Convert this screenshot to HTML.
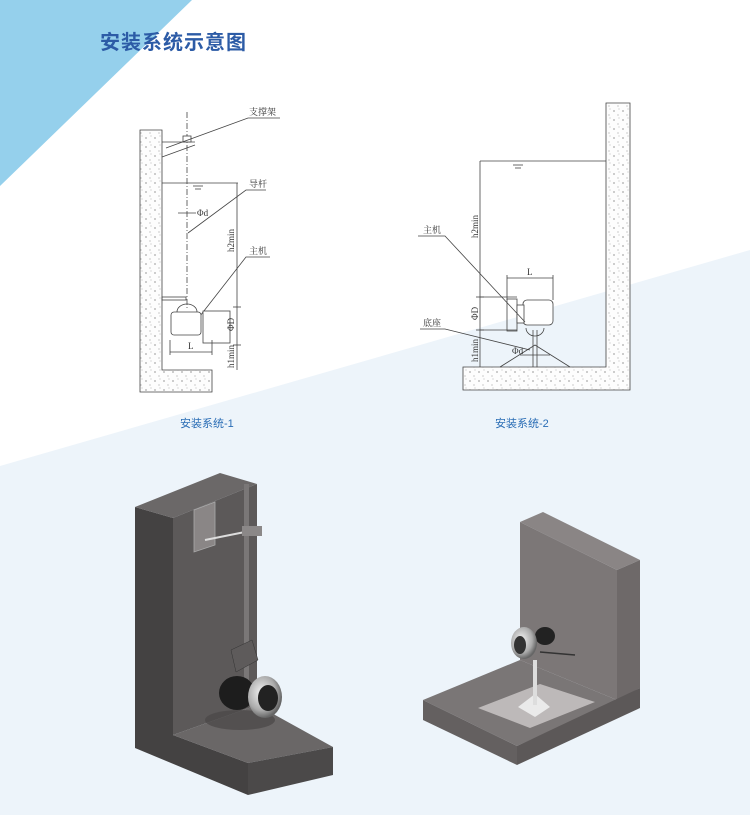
<!DOCTYPE html>
<html><head><meta charset="utf-8"><style>
html,body{margin:0;padding:0;background:#fff;}
body{width:750px;height:815px;position:relative;overflow:hidden;font-family:"Liberation Sans","Noto Sans CJK SC",sans-serif;}
svg{position:absolute;left:0;top:0;}
</style></head><body>
<svg width="750" height="815" viewBox="0 0 750 815" xmlns="http://www.w3.org/2000/svg">
<defs>
<pattern id="dots" width="9" height="9" patternUnits="userSpaceOnUse">
<rect width="9" height="9" fill="#fdfdfd"/>
<circle cx="2" cy="3" r="0.6" fill="#555"/><circle cx="6" cy="7" r="0.5" fill="#777"/><circle cx="7" cy="1" r="0.4" fill="#666"/>
</pattern>
<radialGradient id="silver" cx="40%" cy="40%" r="60%"><stop offset="0" stop-color="#f4f4f4"/><stop offset="0.7" stop-color="#aaa"/><stop offset="1" stop-color="#666"/></radialGradient>
</defs>
<polygon points="0,466 750,250 750,815 0,815" fill="#edf4fa"/>
<polygon points="0,0 192,0 0,186" fill="#95d0ec"/>
<text x="100" y="49" font-size="20" font-weight="bold" fill="#2c5ba6" letter-spacing="1">安装系统示意图</text>

<g stroke="#444" stroke-width="0.8" fill="none">
<path d="M140,130 H162 V370 H212 V392 H140 Z" fill="url(#dots)"/>
<line x1="187" y1="112" x2="187" y2="310" stroke-dasharray="6,2,1,2"/>
<line x1="162" y1="142" x2="195" y2="142"/>
<rect x="183" y="136" width="8" height="6" fill="#fff"/>
<line x1="162" y1="157" x2="195" y2="145"/>
<polyline points="166,148 248,118 280,118"/>
<line x1="162" y1="183" x2="238" y2="183"/>
<line x1="193" y1="186" x2="203" y2="186"/><line x1="195" y1="189" x2="201" y2="189"/>
<line x1="237" y1="183" x2="237" y2="370"/>
<line x1="233" y1="307" x2="241" y2="307"/><line x1="233" y1="345" x2="241" y2="345"/>
<polyline points="188,233 246,190 266,190"/>
<line x1="178" y1="213" x2="196" y2="213"/>
<polyline points="200,316 246,257 270,257"/>
<rect x="162" y="297" width="24" height="3"/>
<path d="M177,312 A10,8 0 0 1 197,312" />
<rect x="171" y="312" width="30" height="23" rx="3" fill="#fff"/>
<rect x="203" y="311" width="27" height="32" fill="#fff"/>
<line x1="170" y1="352" x2="212" y2="352"/>
<line x1="170" y1="340" x2="170" y2="355"/><line x1="212" y1="340" x2="212" y2="355"/>
</g>
<g font-size="9" fill="#333" font-family="'Liberation Serif','Noto Serif CJK SC',serif">
<text x="249" y="115">支撑架</text>
<text x="249" y="187">导杆</text>
<text x="249" y="254">主机</text>
<text x="197" y="216">Φd</text>
<text x="188" y="349">L</text>
<text transform="translate(234,252) rotate(-90)">h2min</text>
<text transform="translate(234,331) rotate(-90)">ΦD</text>
<text transform="translate(234,368) rotate(-90)">h1min</text>
</g>

<g stroke="#444" stroke-width="0.8" fill="none">
<path d="M606,103 H630 V390 H463 V367 H606 Z" fill="url(#dots)"/>
<line x1="480" y1="161" x2="606" y2="161"/>
<line x1="513" y1="165" x2="523" y2="165"/><line x1="515" y1="168" x2="521" y2="168"/>
<line x1="480" y1="161" x2="480" y2="367"/>
<line x1="476" y1="297" x2="484" y2="297"/><line x1="476" y1="330" x2="484" y2="330"/>
<line x1="480" y1="297" x2="517" y2="297"/><line x1="480" y1="330" x2="517" y2="330"/>
<line x1="507" y1="278" x2="553" y2="278"/>
<line x1="507" y1="275" x2="507" y2="300"/><line x1="553" y1="275" x2="553" y2="300"/>
<rect x="507" y="299" width="10" height="32"/>
<rect x="523" y="300" width="30" height="25" rx="4" fill="#fff"/>
<rect x="517" y="305" width="7" height="18" fill="#fff"/>
<path d="M526,328 A9,8 0 0 0 544,328"/>
<line x1="533" y1="330" x2="533" y2="367"/><line x1="537" y1="330" x2="537" y2="367"/>
<polyline points="500,367 535,345 570,367"/>
<line x1="520" y1="355" x2="550" y2="355"/>
<polyline points="418,236 445,236 525,322"/>
<polyline points="420,329 445,329 530,350"/>
</g>
<g font-size="9" fill="#333" font-family="'Liberation Serif','Noto Serif CJK SC',serif">
<text x="423" y="233">主机</text>
<text x="423" y="326">底座</text>
<text x="527" y="275">L</text>
<text x="512" y="354">Φd</text>
<text transform="translate(478,238) rotate(-90)">h2min</text>
<text transform="translate(478,320) rotate(-90)">ΦD</text>
<text transform="translate(478,362) rotate(-90)">h1min</text>
</g>

<text x="180" y="427" font-size="11" fill="#2a6db5">安装系统-1</text>
<text x="495" y="427" font-size="11" fill="#2a6db5">安装系统-2</text>

<polygon points="135,507 173,518 173,735 248,763 248,795 135,748" fill="#444242"/>
<polygon points="135,507 220,473 257,484 173,518" fill="#6b6868"/>
<polygon points="173,518 257,484 257,705 173,735" fill="#5c5959"/>
<polygon points="173,735 257,705 333,747 248,763" fill="#6a6767"/>
<polygon points="248,763 333,747 333,775 248,795" fill="#4b4949"/>
<ellipse cx="240" cy="720" rx="35" ry="10" fill="#4a4747" opacity="0.7"/>
<polygon points="194,510 215,502 215,545 194,552" fill="#8a8686" stroke="#aaa" stroke-width="0.8"/>
<line x1="205" y1="540" x2="255" y2="530" stroke="#ddd" stroke-width="2"/>
<rect x="244" y="484" width="5" height="200" fill="#7a7777"/>
<rect x="242" y="526" width="20" height="10" fill="#8b8888"/>
<polygon points="231,650 252,640 258,660 236,672" fill="#5e5b5b" stroke="#333" stroke-width="0.5"/>
<ellipse cx="237" cy="693" rx="18" ry="17" fill="#1d1d1d"/>
<ellipse cx="265" cy="697" rx="17" ry="21" fill="url(#silver)"/>
<ellipse cx="268" cy="698" rx="10" ry="13" fill="#222"/>

<polygon points="520,522 543,512 640,560 617,570" fill="#8a8585"/>
<polygon points="520,522 617,570 617,700 520,660" fill="#7c7777"/>
<polygon points="617,570 640,560 640,688 617,700" fill="#6e6969"/>
<polygon points="423,700 520,660 617,700 517,746" fill="#7a7676"/>
<polygon points="423,700 517,746 517,765 423,720" fill="#646060"/>
<polygon points="517,746 640,688 640,708 517,765" fill="#5c5858"/>
<polygon points="478,708 540,684 595,702 530,728" fill="#bdb9b9"/>
<polygon points="518,707 535,694 550,707 535,717" fill="#eaeaea"/>
<rect x="533" y="660" width="4" height="45" fill="#ddd"/>
<line x1="540" y1="652" x2="575" y2="655" stroke="#333" stroke-width="1.5"/>
<ellipse cx="545" cy="636" rx="10" ry="9" fill="#222"/>
<ellipse cx="524" cy="643" rx="13" ry="16" fill="url(#silver)"/>
<ellipse cx="520" cy="645" rx="6" ry="9" fill="#333"/>
</svg>
</body></html>
